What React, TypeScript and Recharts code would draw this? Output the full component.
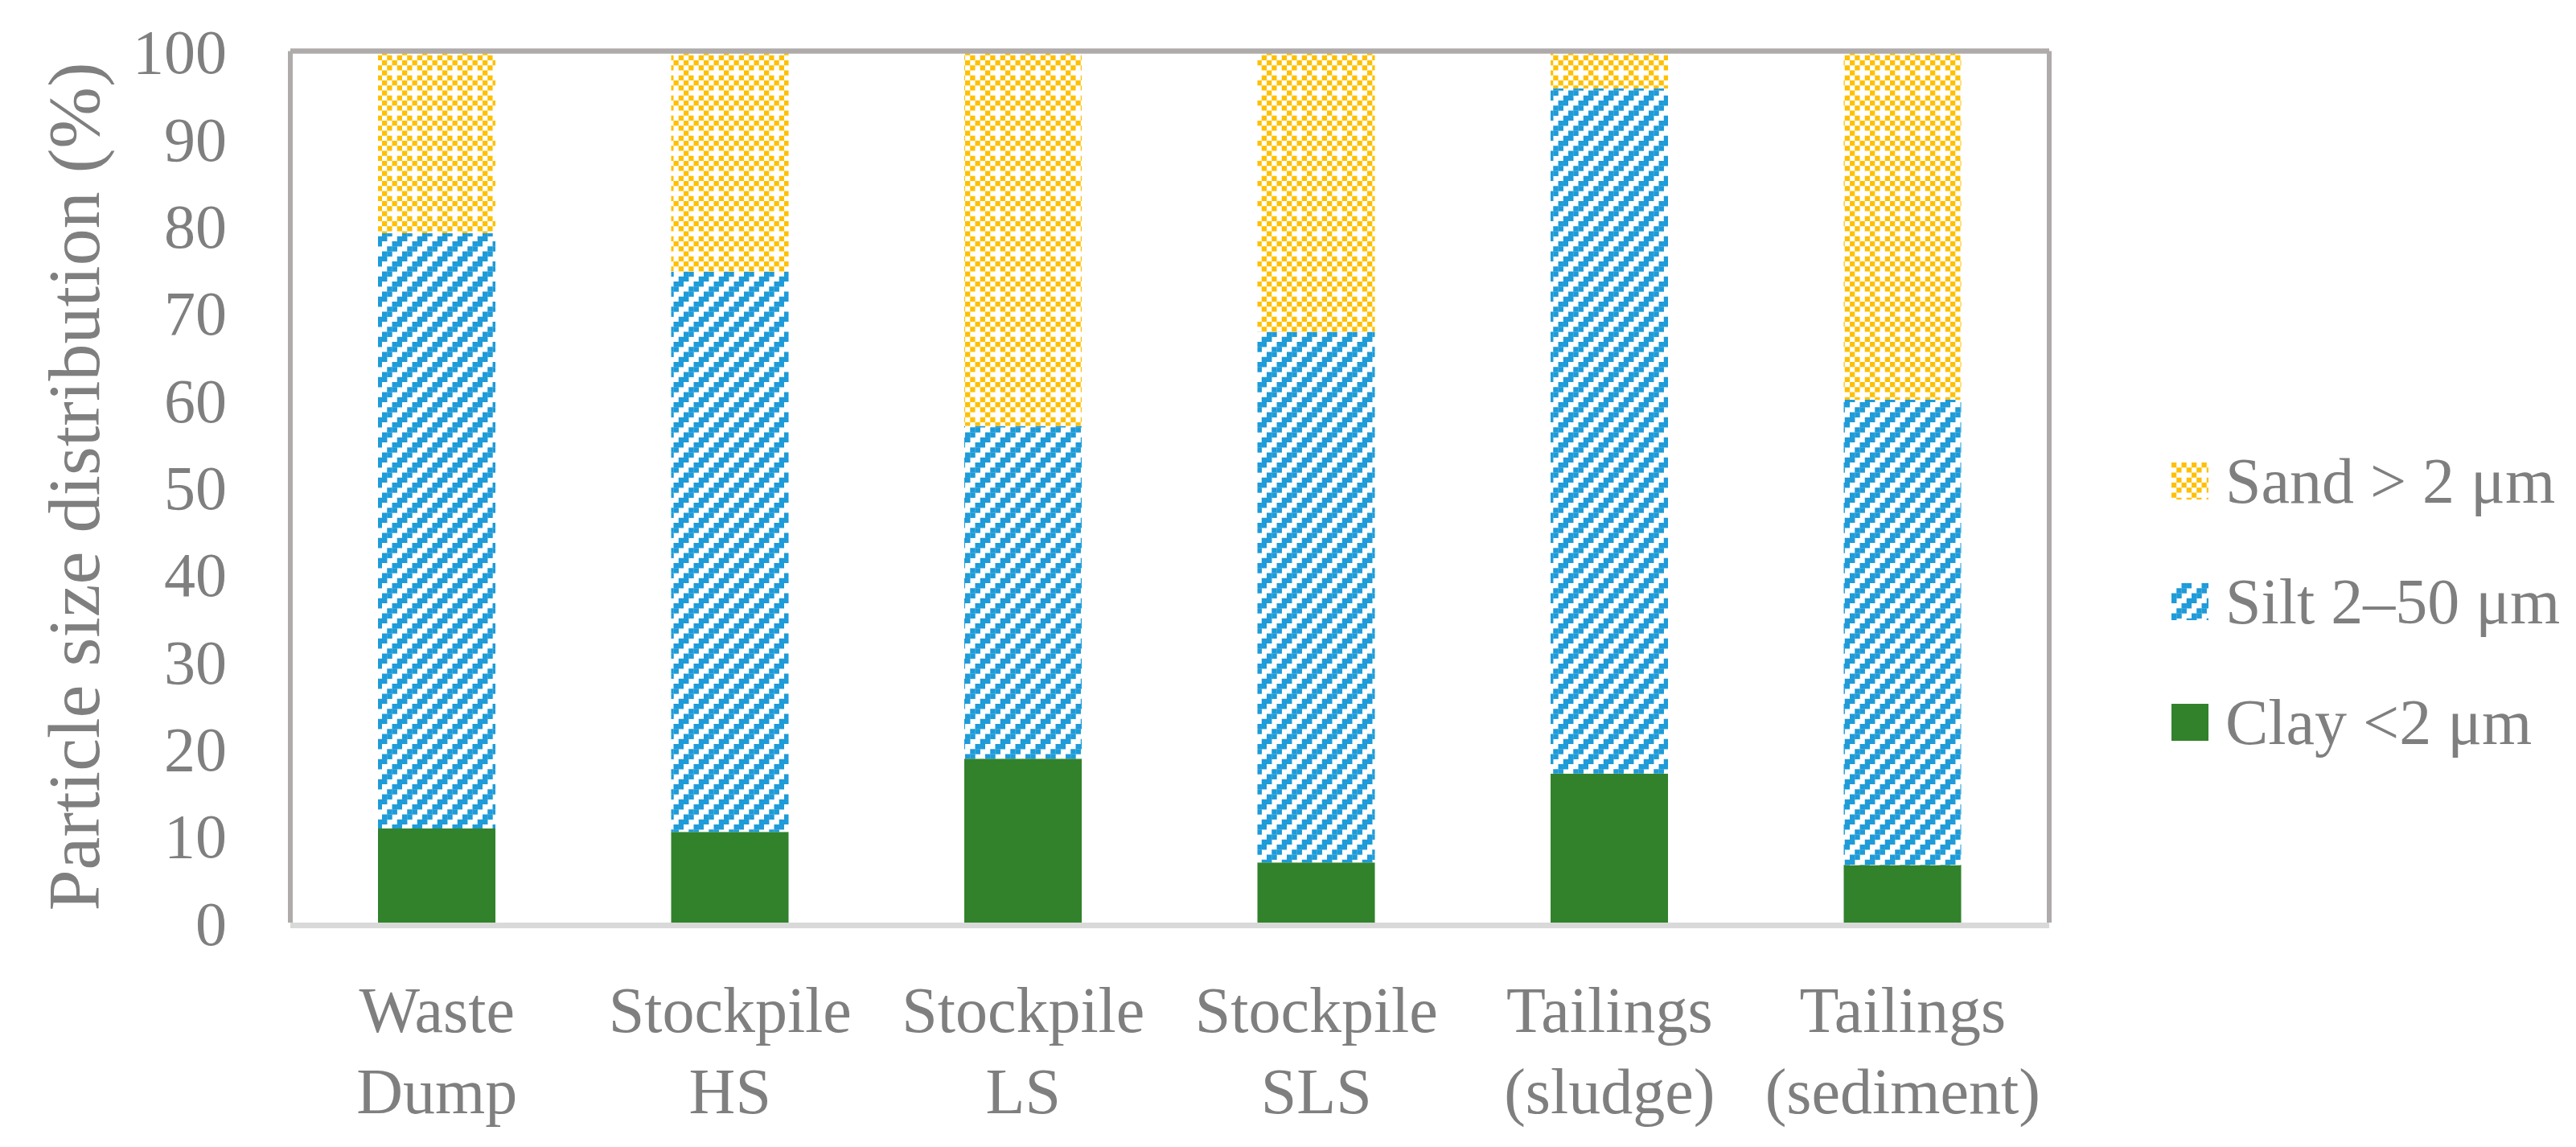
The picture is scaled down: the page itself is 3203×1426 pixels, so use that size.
import { BarChart, Bar, XAxis, YAxis, Legend } from 'recharts';

const categories = ['Waste\nDump', 'Stockpile\nHS', 'Stockpile\nLS', 'Stockpile\nSLS', 'Tailings\n(sludge)', 'Tailings\n(sediment)'];
const clay = [10.8, 10.4, 18.8, 6.9, 17.1, 6.6];
const silt = [68.3, 64.3, 38.2, 60.9, 78.6, 53.4];
const sand = [20.9, 25.3, 43.0, 32.2, 4.3, 40.0];
const yTicks = [0, 10, 20, 30, 40, 50, 60, 70, 80, 90, 100];

const series = [
  { key: 'clay', name: 'Clay <2 μm', fill: '#31822B' },
  { key: 'silt', name: 'Silt 2–50 μm', fill: 'url(#siltPattern)' },
  { key: 'sand', name: 'Sand > 2 μm', fill: 'url(#sandPattern)' },
];

const data = categories.map((name, i) => ({ name, clay: clay[i], silt: silt[i], sand: sand[i] }));

const FONT = '"Liberation Serif", "Times New Roman", serif';
const GREY = '#7F7F7F';
const BORDER = '#AFABAB';
const CELL = 6.25;

const XTick = ({ x, y, payload }: any) => {
  const lines = String(payload.value).split('\n');
  return (
    <text x={x} y={y} textAnchor="middle" fill={GREY} fontSize={80} fontFamily={FONT}>
      {lines.map((l, i) => (
        <tspan key={i} x={x} y={y + 136 + i * 101}>{l}</tspan>
      ))}
    </text>
  );
};

const renderTitle = () => (
  <text transform="translate(123,605) rotate(-90)" textAnchor="middle" fill={GREY} fontSize={92} fontFamily={FONT}>
    Particle size distribution (%)
  </text>
);

const renderLegend = () => (
  <div style={{ fontFamily: FONT, color: GREY, fontSize: 80, lineHeight: 1 }}>
    {[...series].reverse().map((s) => (
      <div key={s.key} style={{ display: 'flex', alignItems: 'center', height: 150 }}>
        <svg width={46} height={46} style={{ marginRight: 21 }}>
          <rect width={46} height={46} fill={s.fill} />
        </svg>
        <span>{s.name}</span>
      </div>
    ))}
  </div>
);

// checkerboard with a missing cell, roughly like the Excel pattern fill
const sandCells: [number, number][] = [];
for (let r = 0; r < 4; r++) for (let c = 0; c < 4; c++) if ((r + c) % 2 === 0 && !(r === 2 && c === 2)) sandCells.push([r, c]);
// stepped upward diagonal
const siltCells: [number, number][] = [];
for (let r = 0; r < 4; r++) for (const k of [2, 3]) siltCells.push([r, (k - r + 4) % 4]);

export default function App() {
  return (
    <div style={{ position: 'absolute', left: 0, top: 0, background: '#fff' }}>
      <BarChart width={3203} height={1426} data={data} margin={{ top: 62.5, right: 654, left: 0, bottom: 0 }}>
        <defs>
          <pattern id="sandPattern" width={CELL * 4} height={CELL * 4} patternUnits="userSpaceOnUse">
            <rect width={CELL * 4} height={CELL * 4} fill="#fff" />
            {sandCells.map(([r, c]) => (
              <rect key={`${r}-${c}`} x={c * CELL} y={r * CELL} width={CELL} height={CELL} fill="#FFC000" />
            ))}
          </pattern>
          <pattern id="siltPattern" width={CELL * 4} height={CELL * 4} patternUnits="userSpaceOnUse">
            <rect width={CELL * 4} height={CELL * 4} fill="#fff" />
            {siltCells.map(([r, c]) => (
              <rect key={`${r}-${c}`} x={c * CELL} y={r * CELL} width={CELL + 0.2} height={CELL + 0.2} fill="#1E9BD8" />
            ))}
          </pattern>
        </defs>
        <XAxis
          dataKey="name"
          height={279}
          interval={0}
          tickLine={false}
          tickSize={0}
          tickMargin={0}
          tick={<XTick />}
          axisLine={{ stroke: '#D9D9D9', strokeWidth: 7, transform: 'translate(0,3.5)' }}
        />
        <XAxis xAxisId="top" dataKey="name" orientation="top" height={1} tick={false} tickLine={false} axisLine={{ stroke: BORDER, strokeWidth: 6.5 }} />
        <YAxis
          type="number"
          domain={[0, 100]}
          ticks={yTicks}
          width={361}
          tickLine={false}
          tickSize={0}
          tickMargin={79}
          tick={{ fill: GREY, fontSize: 78, fontFamily: FONT }}
          axisLine={{ stroke: BORDER, strokeWidth: 6 }}
          label={renderTitle}
        />
        <YAxis yAxisId="right" orientation="right" width={1} tick={false} tickLine={false} axisLine={{ stroke: BORDER, strokeWidth: 6 }} />
        {series.map((s) => (
          <Bar key={s.key} dataKey={s.key} name={s.name} stackId="a" fill={s.fill} barSize={146} isAnimationActive={false} />
        ))}
        <Legend
          layout="vertical"
          align="center"
          verticalAlign="middle"
          content={renderLegend}
          wrapperStyle={{ left: 2700, top: 523, width: 'auto' }}
        />
      </BarChart>
    </div>
  );
}
